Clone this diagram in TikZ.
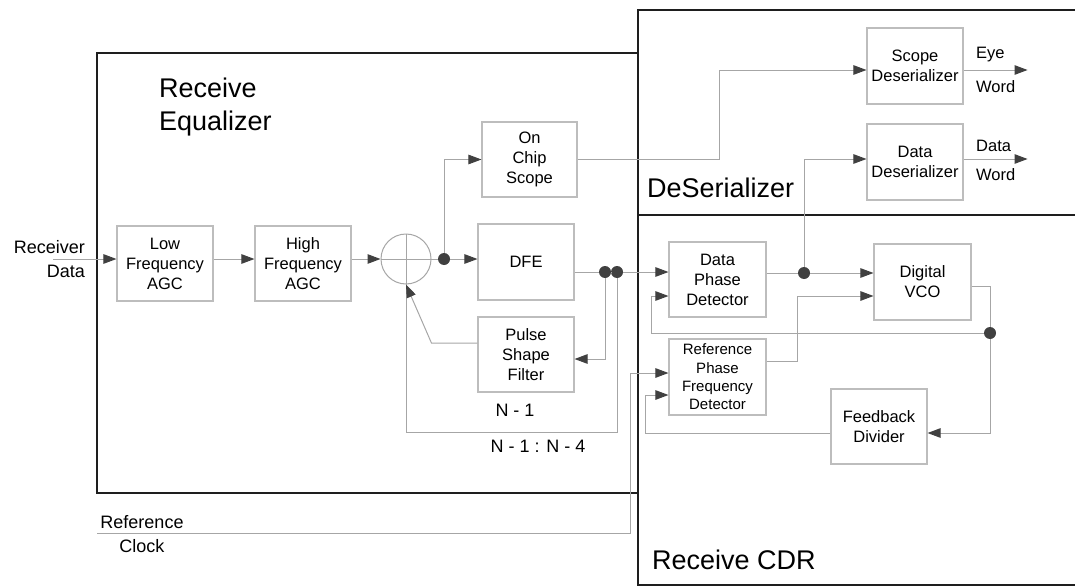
\documentclass[tikz,border=0pt]{standalone}
\usepackage{fontspec}
\setmainfont{Liberation Sans}
\usetikzlibrary{arrows.meta,calc}
\definecolor{boxline}{HTML}{BDBDBD}
\definecolor{wire}{HTML}{A6A6A6}
\definecolor{tipgray}{HTML}{404040}
\definecolor{frameline}{HTML}{1E1E1E}
\begin{document}
\begin{tikzpicture}[x=1pt,y=-1pt,
  blk/.style={draw=boxline, line width=1.1pt, inner sep=0pt, align=center,
    minimum width=96pt, minimum height=75pt, font=\fontsize{16.5}{20}\selectfont},
  smallblk/.style={blk, font=\fontsize{15}{18.3}\selectfont},
  arr/.style={draw=wire, line width=1pt, -{Triangle[length=13pt,width=9.5pt,color=tipgray]}},
  wireln/.style={draw=wire, line width=1pt},
  dot/.style={circle, fill=tipgray, minimum size=12pt, inner sep=0pt},
  frame/.style={draw=frameline, line width=2pt},
  title/.style={inner sep=0pt, align=left, font=\fontsize{27}{33}\selectfont},
  edge/.style={inner sep=0pt, font=\fontsize{18}{24}\selectfont},
  lbl/.style={inner sep=0pt, font=\fontsize{16.5}{20}\selectfont}]
\useasboundingbox (0,0) rectangle (1075,586);

% section frames
\draw[frame] (97,53) rectangle (638,493);
\draw[frame] (638,10) rectangle (1085,215);
\draw[frame] (638,215) rectangle (1085,585);

\node[title, anchor=west] at (159,107) {Receive\\Equalizer};
\node[title, anchor=west] at (647,188) {DeSerializer};
\node[title, anchor=west] at (652,560) {Receive CDR};

% receive equalizer blocks
\node[blk] (lfagc) at (165,263.5) {Low\\Frequency\\AGC};
\node[blk] (hfagc) at (303,263.5) {High\\Frequency\\AGC};
\node[circle, draw=wire, line width=1pt, minimum size=50pt, inner sep=0pt] (sum) at (406,259) {};
\draw[wireln] (sum.north) -- (sum.south) (sum.west) -- (sum.east);
\node[blk, minimum height=76pt] (dfe) at (526,262) {DFE};
\node[blk, minimum width=95pt] (ocs) at (529.5,159.5) {On\\Chip\\Scope};
\node[blk] (psf) at (526,354.5) {Pulse\\Shape\\Filter};

% deserializer blocks
\node[blk, minimum height=76pt] (sdes) at (915,66) {Scope\\Deserializer};
\node[blk, minimum height=76pt] (ddes) at (915,162) {Data\\Deserializer};

% clock and data recovery blocks
\node[blk, minimum width=97pt] (dpd) at (717.5,279.5) {Data\\Phase\\Detector};
\node[blk, minimum width=97pt, minimum height=76pt] (vco) at (922.5,282) {Digital\\VCO};
\node[smallblk, minimum width=97pt, minimum height=76pt] (rpfd) at (717.5,377) {Reference\\Phase\\Frequency\\Detector};
\node[blk] (fbd) at (879,426.5) {Feedback\\Divider};

% junction dots
\node[dot] (d1) at (444,259) {};
\node[dot] (d2) at (605,272) {};
\node[dot] (d3) at (617,272) {};
\node[dot] (d4) at (804,273) {};
\node[dot] (d5) at (990,333) {};

% external ports
\coordinate (rxin) at (53,259);
\coordinate (refin) at (97,533);
\node[edge, align=right, anchor=east] at (85,259) {Receiver\\Data};
\node[edge, align=center] at (142,534) {Reference\\Clock};

% equalizer signal path
\draw[arr] (rxin) -- (rxin -| lfagc.west);
\draw[arr] (lfagc.east |- sum.center) -- (hfagc.west |- sum.center);
\draw[arr] (hfagc.east |- sum.center) -- (sum.west);
\draw[wireln] (sum.east) -- (d1);
\draw[arr] (d1) -- (d1 -| dfe.west);
\draw[arr] (d1) |- (ocs.west);
\draw[wireln] (dfe.east |- d2) -- (d2);
\draw[wireln] (d2) -- (d3);
\draw[arr] (d3) -- (d3 -| dpd.west);
\draw[arr] (d2) |- ($(psf.east)+(0,4.5)$);
\draw[wireln] (d3) -- ++(0,160) -| (sum.south);
\draw[arr] ($(psf.west)+(0,-11.5)$) -- ++(-46,0) -- (sum.south);

% scope and data to the deserializers
\draw[arr] (ocs.east) -- ++(142,0) |- ($(sdes.west)+(0,4)$);
\draw[arr] (d4) |- ($(ddes.west)+(0,-3)$);
\draw[arr] ($(sdes.east)+(0,4)$) -- ++(64,0);
\draw[arr] ($(ddes.east)+(0,-3)$) -- ++(64,0);
\node[lbl, anchor=west] at (976,55) {Eye};
\node[lbl, anchor=west] at (976,87) {Word};
\node[lbl, anchor=west] at (976,146) {Data};
\node[lbl, anchor=west] at (976,175) {Word};

% clock and data recovery loop
\draw[wireln] (dpd.east |- d4) -- (d4);
\draw[arr] (d4) -- (d4 -| vco.west);
\draw[arr] ($(rpfd.east)+(0,-16)$) -- ++(31,0) |- ($(vco.west)+(0,14)$);
\draw[wireln] ($(vco.east)+(0,4)$) -| (d5);
\draw[arr] (d5) |- ($(fbd.east)+(0,6.5)$);
\draw[arr] (d5) -- ++(-339,0) |- ($(dpd.west)+(0,16.5)$);
\draw[arr] ($(fbd.west)+(0,6.5)$) -- ++(-185,0) |- ($(rpfd.west)+(0,18)$);
\draw[arr] (refin) -- ++(533,0) |- ($(rpfd.west)+(0,-4)$);

% tap labels
\node[edge] at (515,410) {N - 1};
\node[edge] at (538,446) {N - 1 : N - 4};
\end{tikzpicture}
\end{document}
